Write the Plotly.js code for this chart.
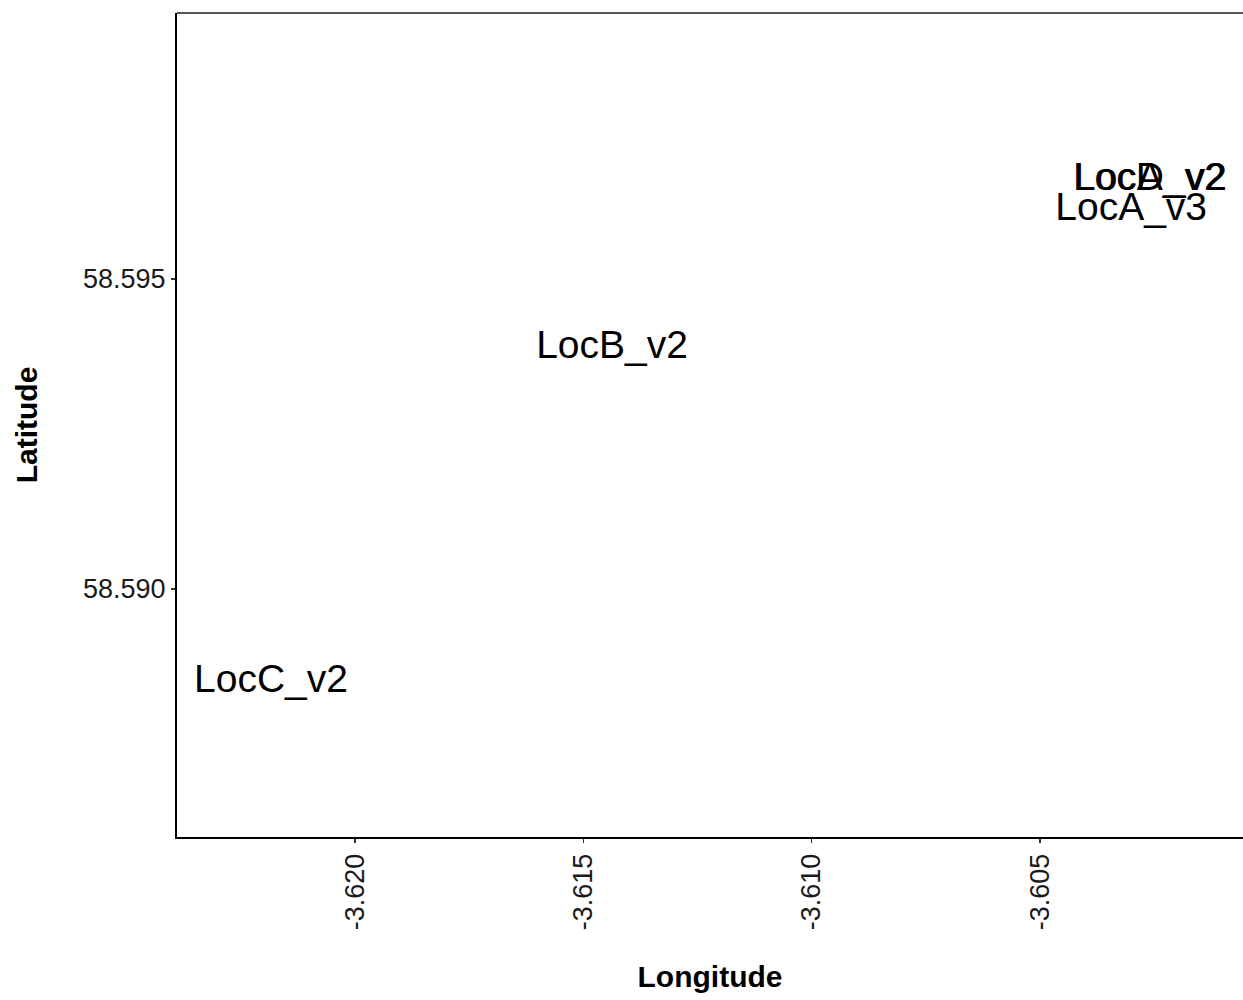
<!DOCTYPE html>
<html>
<head>
<meta charset="utf-8">
<script src="https://cdn.plot.ly/plotly-3.0.1.min.js"></script>
<style>
  html, body { margin: 0; padding: 0; background: #ffffff; }
  #chart { width: 1243px; height: 1000px; }
</style>
</head>
<body>
<div id="chart"></div>
<script>
// Site labels placed at their longitude / latitude
const siteNames = ["LocC_v2", "LocB_v2", "LocA_v2", "LocD_v2", "LocA_v3"];
const longitudes = [-3.62184, -3.61437, -3.60259, -3.60259, -3.60300];
const latitudes = [58.58850, 58.59389, 58.59660, 58.59660, 58.59611];

const xTicks = [-3.620, -3.615, -3.610, -3.605];
const xTickText = ["-3.620", "-3.615", "-3.610", "-3.605"];
const yTicks = [58.590, 58.595];
const yTickText = ["58.590", "58.595"];

const trace = {
  type: "scatter",
  mode: "text",
  x: longitudes,
  y: latitudes,
  text: siteNames,
  textposition: "middle center",
  textfont: { family: "Liberation Sans, Arial, sans-serif", size: 39, color: "#000000" },
  hoverinfo: "x+y+text",
  showlegend: false
};

const layout = {
  width: 1243,
  height: 1000,
  paper_bgcolor: "#ffffff",
  plot_bgcolor: "#ffffff",
  margin: { l: 177, r: 0, t: 13, b: 163 },
  font: { family: "Liberation Sans, Arial, sans-serif", color: "#1a1a1a" },
  xaxis: {
    range: [-3.6239, -3.60055],
    tickvals: xTicks,
    ticktext: xTickText,
    tickangle: -90,
    tickfont: { size: 27, color: "#1a1a1a" },
    ticks: "outside",
    ticklen: 4,
    tickwidth: 1.5,
    tickcolor: "#333333",
    showgrid: false,
    zeroline: false,
    showline: true,
    linecolor: "#000000",
    linewidth: 2,
    title: { text: "<b>Longitude</b>", font: { size: 30, color: "#000000" }, standoff: 37 }
  },
  yaxis: {
    range: [58.5860, 58.59929],
    tickvals: yTicks,
    ticktext: yTickText,
    tickfont: { size: 27, color: "#1a1a1a" },
    ticks: "outside",
    ticklen: 4,
    tickwidth: 1.5,
    tickcolor: "#333333",
    showgrid: false,
    zeroline: false,
    showline: true,
    linecolor: "#000000",
    linewidth: 2,
    title: { text: "<b>Latitude</b>", font: { size: 30, color: "#000000" }, standoff: 37 }
  },
  shapes: [
    {
      type: "line", xref: "paper", yref: "paper",
      x0: 0, x1: 1, y0: 1, y1: 1,
      line: { color: "#555555", width: 2 }
    }
  ]
};

Plotly.newPlot("chart", [trace], layout, { displayModeBar: false, staticPlot: true });
</script>
</body>
</html>
